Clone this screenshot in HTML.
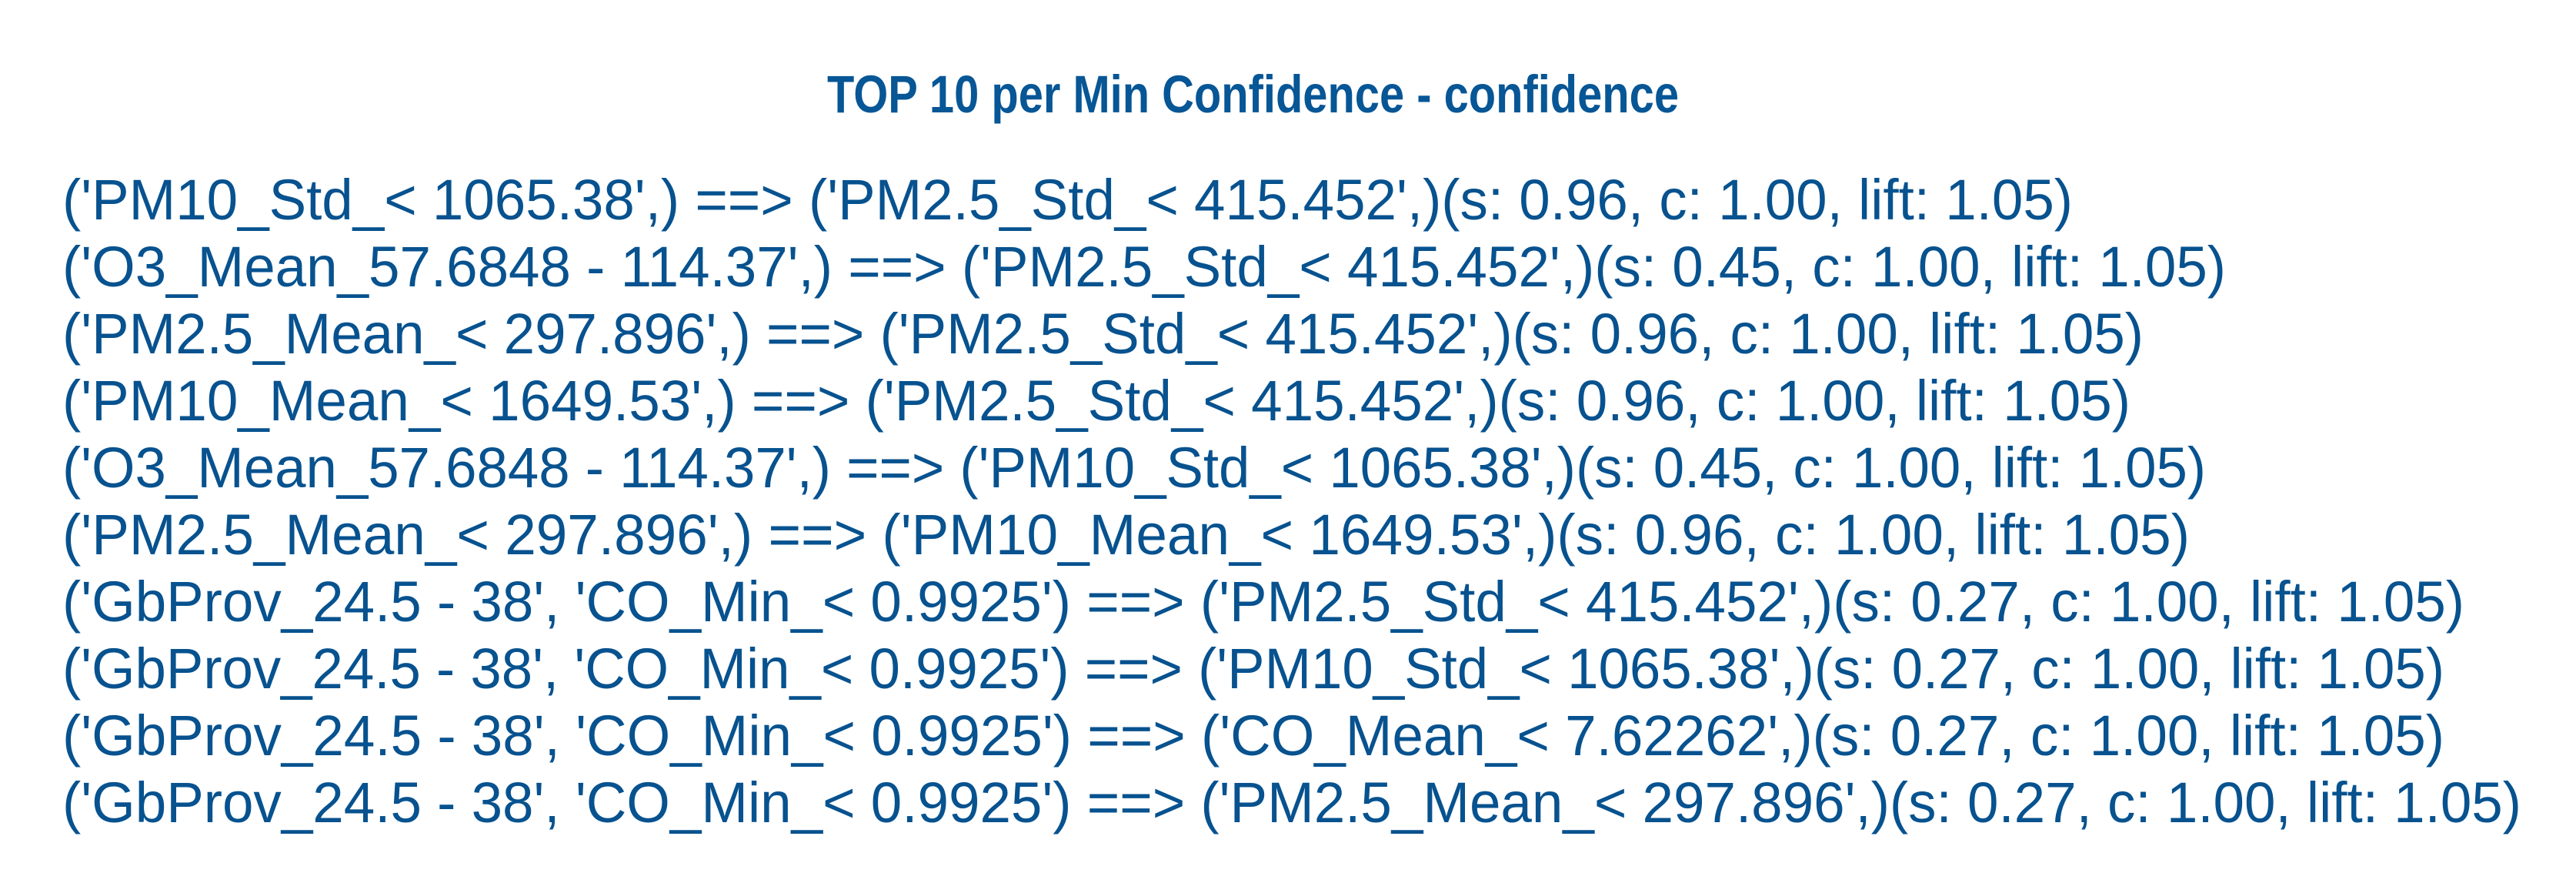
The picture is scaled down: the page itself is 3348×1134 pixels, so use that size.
<!DOCTYPE html>
<html><head><meta charset="utf-8"><style>
html,body{margin:0;padding:0;background:#fff;}
svg{display:block;}
</style></head><body>
<svg width="3348" height="1134" viewBox="0 0 3348 1134" xmlns="http://www.w3.org/2000/svg">
<rect width="3348" height="1134" fill="#fff"/>
<text x="1075" y="146" textLength="1107" lengthAdjust="spacingAndGlyphs" font-family="Liberation Sans, sans-serif" font-weight="bold" font-size="69" fill="#075696">TOP 10 per Min Confidence - confidence</text>
<g id="rules"></g>
</svg>
<script>
const rules = [
"('PM10_Std_< 1065.38',) ==> ('PM2.5_Std_< 415.452',)(s: 0.96, c: 1.00, lift: 1.05)",
"('O3_Mean_57.6848 - 114.37',) ==> ('PM2.5_Std_< 415.452',)(s: 0.45, c: 1.00, lift: 1.05)",
"('PM2.5_Mean_< 297.896',) ==> ('PM2.5_Std_< 415.452',)(s: 0.96, c: 1.00, lift: 1.05)",
"('PM10_Mean_< 1649.53',) ==> ('PM2.5_Std_< 415.452',)(s: 0.96, c: 1.00, lift: 1.05)",
"('O3_Mean_57.6848 - 114.37',) ==> ('PM10_Std_< 1065.38',)(s: 0.45, c: 1.00, lift: 1.05)",
"('PM2.5_Mean_< 297.896',) ==> ('PM10_Mean_< 1649.53',)(s: 0.96, c: 1.00, lift: 1.05)",
"('GbProv_24.5 - 38', 'CO_Min_< 0.9925') ==> ('PM2.5_Std_< 415.452',)(s: 0.27, c: 1.00, lift: 1.05)",
"('GbProv_24.5 - 38', 'CO_Min_< 0.9925') ==> ('PM10_Std_< 1065.38',)(s: 0.27, c: 1.00, lift: 1.05)",
"('GbProv_24.5 - 38', 'CO_Min_< 0.9925') ==> ('CO_Mean_< 7.62262',)(s: 0.27, c: 1.00, lift: 1.05)",
"('GbProv_24.5 - 38', 'CO_Min_< 0.9925') ==> ('PM2.5_Mean_< 297.896',)(s: 0.27, c: 1.00, lift: 1.05)"
];
const rightEdges = [2694, 2893, 2786, 2769, 2867, 2846, 3203, 3177, 3177, 3277];
const g = document.getElementById('rules');
const ns = 'http://www.w3.org/2000/svg';
rules.forEach((r, i) => {
  const t = document.createElementNS(ns, 'text');
  
  
  t.setAttribute('x', 81);
  t.setAttribute('y', 285 + i * 87);
  t.setAttribute('font-family', 'Liberation Sans, sans-serif');
  t.setAttribute('font-size', '74');
  t.setAttribute('fill', '#07528f');
  t.setAttribute('textLength', rightEdges[i] - 81);
  t.setAttribute('lengthAdjust', 'spacingAndGlyphs');
  t.textContent = r;
  g.appendChild(t);
});
</script>
</body></html>
